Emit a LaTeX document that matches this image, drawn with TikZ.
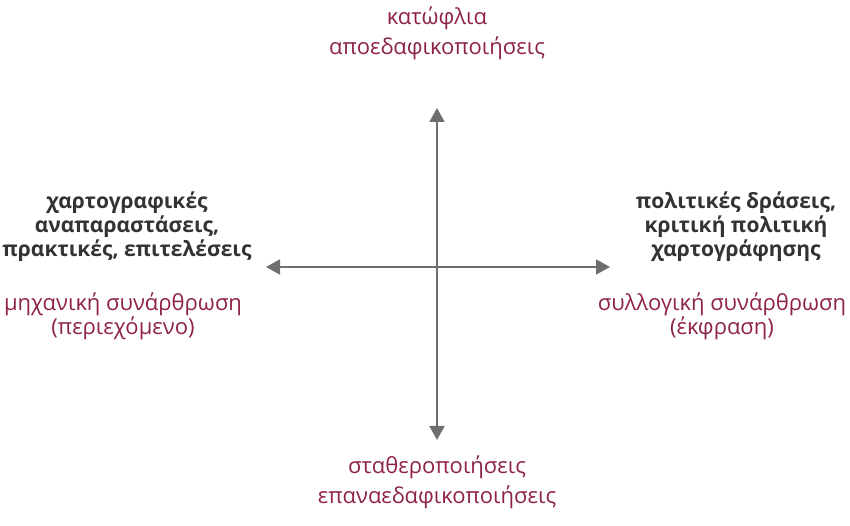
\documentclass[tikz,border=0pt]{standalone}
\usepackage{fontspec}
\setmainfont{Open Sans}
\usepackage{xcolor}
\usetikzlibrary{arrows.meta, positioning}
\definecolor{kmaroon}{HTML}{8E2347}
\definecolor{kgrey}{HTML}{6E6E6E}
\definecolor{ktext}{HTML}{333333}

\begin{document}
\begin{tikzpicture}[x=1pt, y=1pt,
  axis/.style={kgrey, line width=1.8pt, -{Triangle[length=14pt, width=15pt]}},
  pole/.style={font=\fontsize{22}{30}\selectfont, text=kmaroon, align=center, inner sep=0pt},
  field/.style={font=\fontsize{21}{24}\selectfont\bfseries, text=ktext, align=center, inner sep=0pt},
  mode/.style={font=\fontsize{22}{23}\selectfont, text=kmaroon, align=center, inner sep=0pt}]
\useasboundingbox (0,0) rectangle (850,526);
% axes
\coordinate (o) at (437,259);
\coordinate (up) at (437,418);
\coordinate (down) at (437,86);
\coordinate (west) at (266,259);
\coordinate (east) at (610,259);
\draw[axis] (o) -- (up);
\draw[axis] (o) -- (down);
\draw[axis] (o) -- (west);
\draw[axis] (o) -- (east);
% vertical poles
\node[pole] (top) at (437,493) {κατώφλια\\αποεδαφικοποιήσεις};
\node[pole] (bottom) at (437,44) {σταθεροποιήσεις\\επαναεδαφικοποιήσεις};
% left side
\node[field] (leftfield) at (127,299) {χαρτογραφικές\\αναπαραστάσεις,\\πρακτικές, επιτελέσεις};
\node[mode] (leftmode) at (123,210) {μηχανική συνάρθρωση\\(περιεχόμενο)};
% right side
\node[field] (rightfield) at (736,299) {πολιτικές δράσεις,\\κριτική πολιτική\\χαρτογράφησης};
\node[mode] (rightmode) at (722,210) {συλλογική συνάρθρωση\\(έκφραση)};
\end{tikzpicture}
\end{document}
